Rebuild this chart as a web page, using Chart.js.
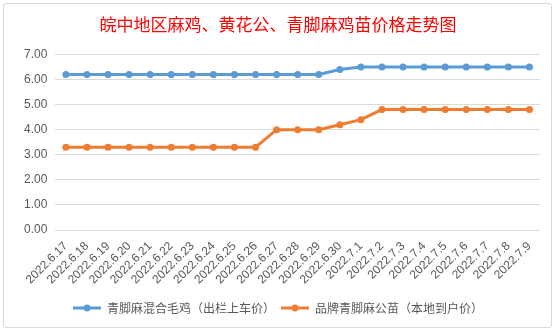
<!DOCTYPE html>
<html>
<head>
<meta charset="utf-8">
<script src="https://cdn.jsdelivr.net/npm/chart.js@4.4.0/dist/chart.umd.min.js"></script>
<style>
  html, body { margin: 0; padding: 0; background: #fff; }
  #box {
    position: absolute; left: 3px; top: 3px; width: 547px; height: 323px;
    border: 1px solid #d9d9d9; border-radius: 3px; background: #fff;
  }
</style>
</head>
<body>
<div id="box"><canvas id="priceChart" width="547" height="323"></canvas></div>
<script>
// 日期
const dates = ["2022.6.17", "2022.6.18", "2022.6.19", "2022.6.20", "2022.6.21", "2022.6.22",
    "2022.6.23", "2022.6.24", "2022.6.25", "2022.6.26", "2022.6.27", "2022.6.28", "2022.6.29",
    "2022.6.30", "2022.7.1", "2022.7.2", "2022.7.3", "2022.7.4", "2022.7.5", "2022.7.6",
    "2022.7.7", "2022.7.8", "2022.7.9"];

// 青脚麻混合毛鸡（出栏上车价）
const mixedPrice = [6.2, 6.2, 6.2, 6.2, 6.2, 6.2, 6.2, 6.2, 6.2, 6.2, 6.2, 6.2, 6.2,
    6.4, 6.5, 6.5, 6.5, 6.5, 6.5, 6.5, 6.5, 6.5, 6.5];

// 品牌青脚麻公苗（本地到户价）
const chickPrice = [3.3, 3.3, 3.3, 3.3, 3.3, 3.3, 3.3, 3.3, 3.3, 3.3, 4.0, 4.0, 4.0,
    4.2, 4.4, 4.8, 4.8, 4.8, 4.8, 4.8, 4.8, 4.8, 4.8];

const blue = '#5B9BD5';
const orange = '#ED7D31';
const textGray = '#595959';

// legend marker: line with a dot
function marker(color) {
    const c = document.createElement('canvas');
    c.width = 28; c.height = 8;
    const g = c.getContext('2d');
    g.strokeStyle = color;
    g.lineWidth = 3;
    g.beginPath(); g.moveTo(0, 4); g.lineTo(28, 4); g.stroke();
    g.fillStyle = color;
    g.beginPath(); g.arc(14, 4, 3.5, 0, Math.PI * 2); g.fill();
    return c;
}
const markers = [marker(blue), marker(orange)];

new Chart(document.getElementById("priceChart"), {
    type: 'line',
    data: {
        labels: dates,
        datasets: [{
            label: '青脚麻混合毛鸡（出栏上车价）',
            data: mixedPrice,
            borderColor: blue,
            backgroundColor: blue,
            borderWidth: 3,
            pointRadius: 3.5,
            pointHoverRadius: 3.5,
            pointBorderWidth: 0,
            tension: 0
        }, {
            label: '品牌青脚麻公苗（本地到户价）',
            data: chickPrice,
            borderColor: orange,
            backgroundColor: orange,
            borderWidth: 3,
            pointRadius: 3.5,
            pointHoverRadius: 3.5,
            pointBorderWidth: 0,
            tension: 0
        }]
    },
    options: {
        responsive: false,
        animation: false,
        layout: { padding: { left: 12, right: 11, top: 0, bottom: 3 } },
        plugins: {
            title: {
                display: true,
                text: '皖中地区麻鸡、黄花公、青脚麻鸡苗价格走势图',
                color: '#ff0000',
                font: { family: '"Noto Sans CJK SC"', size: 17, weight: 'normal' },
                padding: { top: 10, bottom: 20 }
            },
            legend: {
                position: 'bottom',
                labels: {
                    color: textGray,
                    font: { family: '"Noto Sans CJK SC"', size: 12 },
                    usePointStyle: true,
                    pointStyleWidth: 28,
                    padding: 6,
                    generateLabels(chart) {
                        return chart.data.datasets.map((ds, i) => ({
                            text: ds.label,
                            fontColor: textGray,
                            pointStyle: markers[i],
                            datasetIndex: i,
                            hidden: false,
                            lineWidth: 0
                        }));
                    }
                }
            },
            tooltip: { enabled: false }
        },
        scales: {
            x: {
                offset: true,
                grid: { display: false, drawTicks: false },
                border: { display: false },
                ticks: {
                    color: textGray,
                    font: { family: '"Liberation Sans"', size: 12 },
                    maxRotation: 45,
                    minRotation: 45,
                    autoSkip: false,
                    padding: 9
                }
            },
            y: {
                min: 0,
                max: 7,
                grid: { color: '#d9d9d9', drawTicks: false },
                border: { display: false },
                ticks: {
                    stepSize: 1,
                    color: textGray,
                    font: { family: '"Liberation Sans"', size: 12 },
                    padding: 8,
                    callback: v => v.toFixed(2)
                }
            }
        }
    }
});
</script>
</body>
</html>
